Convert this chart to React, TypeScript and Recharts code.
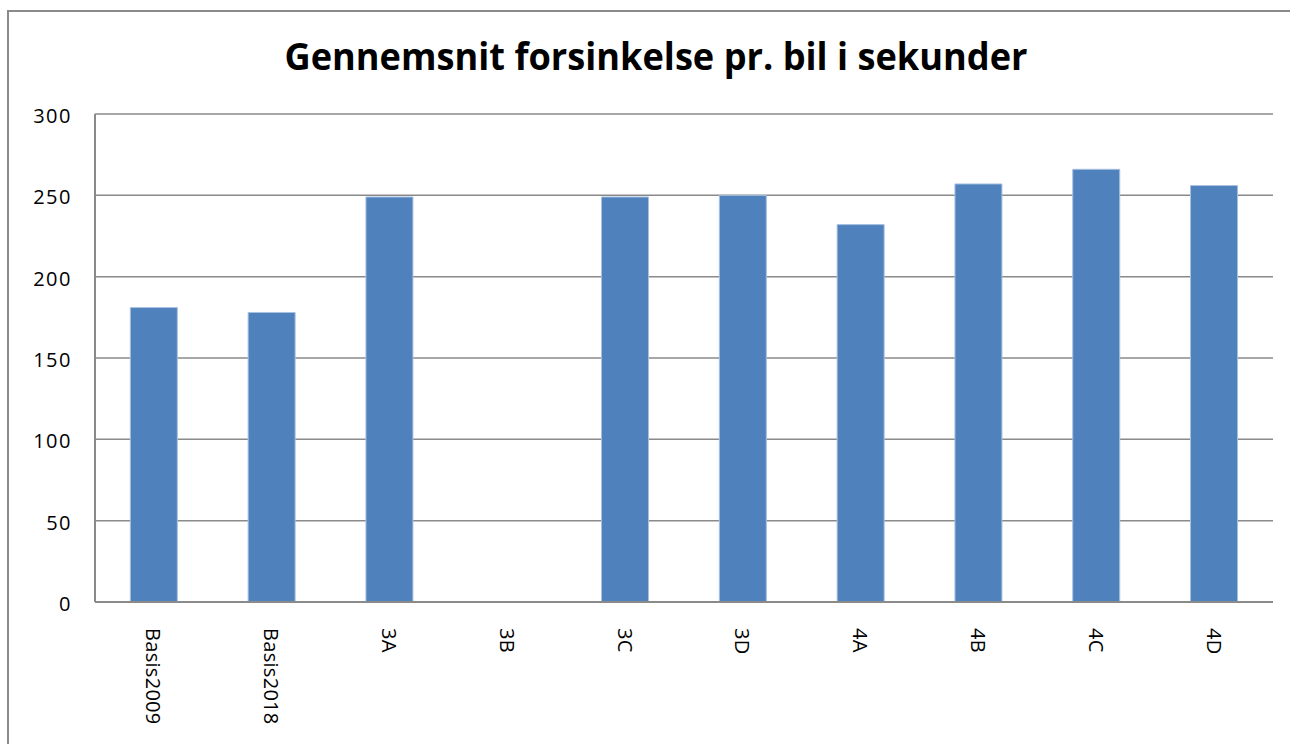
import { Bar, BarChart, CartesianGrid, XAxis, YAxis } from 'recharts'

const scenarios = ['Basis2009', 'Basis2018', '3A', '3B', '3C', '3D', '4A', '4B', '4C', '4D']
const delaySeconds: (number | null)[] = [181, 178, 249, null, 249, 250, 232, 257, 266, 256]
const yTicks = [0, 50, 100, 150, 200, 250, 300]

const chartTitle = 'Gennemsnit forsinkelse pr. bil i sekunder'

const data = scenarios.map((name, i) => ({ name, delay: delaySeconds[i] }))

interface TickProps {
    x?: number
    y?: number
    payload?: { value: string }
}

function RotatedTick({ x = 0, y = 0, payload }: TickProps) {
    return (
        <text
            transform={`translate(${x},${y}) rotate(90)`}
            textAnchor="start"
            dominantBaseline="central"
            fontFamily="Open Sans"
            fontSize={20}
            letterSpacing={0.3}
            fill="#000"
        >
            {payload?.value}
        </text>
    )
}

export default function App() {
    return (
        <div style={{ position: 'relative', width: 1290, height: 744, overflow: 'hidden', background: '#fff' }}>
            <style>{'body{margin:0;overflow:hidden}'}</style>
            <div
                style={{
                    position: 'absolute',
                    left: 7,
                    top: 10,
                    width: 1320,
                    height: 800,
                    borderTop: '2px solid #8a8a8a',
                    borderLeft: '2px solid #8a8a8a',
                }}
            />
            <svg width={1290} height={110} style={{ position: 'absolute', left: 0, top: 0 }}>
                <text
                    x={656}
                    y={70}
                    textAnchor="middle"
                    fontFamily="Open Sans"
                    fontWeight="bold"
                    fontSize={37}
                    textLength={743}
                    lengthAdjust="spacingAndGlyphs"
                    fill="#000"
                >
                    {chartTitle}
                </text>
            </svg>
            <div style={{ position: 'absolute', left: 0, top: 0 }}>
                <BarChart
                    width={1290}
                    height={744}
                    data={data}
                    margin={{ top: 114, right: 17, left: 0, bottom: 0 }}
                    barCategoryGap="30%"
                >
                    <CartesianGrid vertical={false} stroke="#8a8a8a" strokeWidth={1.5} />
                    <XAxis
                        dataKey="name"
                        height={142}
                        interval={0}
                        axisLine={{ stroke: '#8a8a8a', strokeWidth: 2 }}
                        tickLine={false}
                        tickSize={0}
                        tickMargin={26}
                        tick={<RotatedTick />}
                    />
                    <YAxis
                        width={95}
                        domain={[0, 300]}
                        ticks={yTicks}
                        interval={0}
                        axisLine={{ stroke: '#8a8a8a', strokeWidth: 2 }}
                        tickLine={false}
                        tickSize={0}
                        tickMargin={23}
                        tick={{ fontFamily: 'Open Sans', fontSize: 20, letterSpacing: 1.5, fill: '#000', dy: 2 }}
                    />
                    <Bar
                        dataKey="delay"
                        fill="#4f81bd"
                        stroke="#a9c1e0"
                        strokeWidth={1}
                        isAnimationActive={false}
                    />
                </BarChart>
            </div>
        </div>
    )
}
